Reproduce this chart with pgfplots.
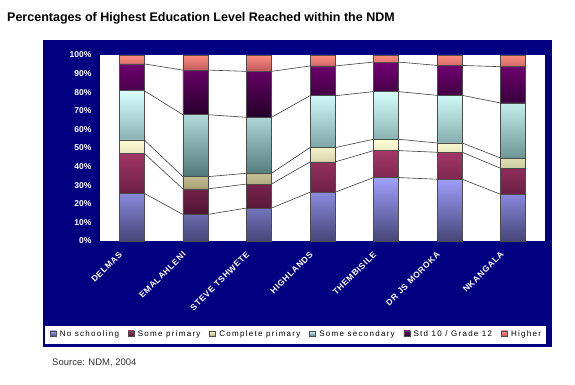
\documentclass[border=0pt]{standalone}
\usepackage{fontspec}
\setmainfont{Liberation Sans}
\usepackage{pgfplots}
\pgfplotsset{compat=1.18}
\definecolor{navy}{RGB}{0,0,128}
\definecolor{nsT}{RGB}{160,160,255}\definecolor{nsB}{RGB}{70,70,120}
\definecolor{spT}{RGB}{165,55,105}\definecolor{spB}{RGB}{80,20,50}
\definecolor{cpT}{RGB}{255,255,215}\definecolor{cpB}{RGB}{170,165,120}
\definecolor{ssT}{RGB}{215,255,255}\definecolor{ssB}{RGB}{80,120,120}
\definecolor{stT}{RGB}{115,0,115}\definecolor{stB}{RGB}{35,0,40}
\definecolor{hiT}{RGB}{255,140,130}\definecolor{hiB}{RGB}{190,90,90}
\begin{document}
\begin{tikzpicture}
\path[use as bounding box] (0pt,0pt) rectangle (575pt,385pt);
\fill[white] (0pt,0pt) rectangle (575pt,385pt);
\fill[navy] (43pt,38pt) rectangle (552pt,345pt);
\fill[white] (45pt,41pt) rectangle (546pt,59pt);
\fill[white] (100pt,144pt) rectangle (545pt,330pt);
\node[anchor=west, font=\bfseries\fontsize{12.5}{14}\selectfont, inner sep=0pt] at (7pt,367pt) {Percentages of Highest Education Level Reached within the NDM};
\node[anchor=west, font=\fontsize{9.5}{11}\selectfont, text=black!80, inner sep=0pt] at (52pt,22pt) {Source: NDM, 2004};
\begin{axis}[at={(100pt,144pt)}, anchor=south west, scale only axis, width=445pt, height=186pt,
  xmin=-0.5, xmax=6.5, ymin=0, ymax=100, hide axis]
\pgfplotsset{every axis plot/.append style={black!75, line width=0.6pt}}
\addplot[mark=none] coordinates {(-0.197,25.6)(0.197,25.6)(0.803,14.3)(1.197,14.3)(1.803,17.7)(2.197,17.7)(2.803,26.2)(3.197,26.2)(3.803,34.1)(4.197,34.1)(4.803,33.2)(5.197,33.2)(5.803,25.1)(6.197,25.1)};
\addplot[mark=none] coordinates {(-0.197,47.1)(0.197,47.1)(0.803,28.0)(1.197,28.0)(1.803,30.6)(2.197,30.6)(2.803,42.5)(3.197,42.5)(3.803,48.6)(4.197,48.6)(4.803,47.7)(5.197,47.7)(5.803,39.1)(6.197,39.1)};
\addplot[mark=none] coordinates {(-0.197,54.3)(0.197,54.3)(0.803,34.6)(1.197,34.6)(1.803,36.4)(2.197,36.4)(2.803,50.2)(3.197,50.2)(3.803,54.7)(4.197,54.7)(4.803,52.7)(5.197,52.7)(5.803,44.6)(6.197,44.6)};
\addplot[mark=none] coordinates {(-0.197,80.8)(0.197,80.8)(0.803,67.9)(1.197,67.9)(1.803,66.5)(2.197,66.5)(2.803,78.1)(3.197,78.1)(3.803,80.3)(4.197,80.3)(4.803,78.3)(5.197,78.3)(5.803,74.2)(6.197,74.2)};
\addplot[mark=none] coordinates {(-0.197,95.2)(0.197,95.2)(0.803,91.9)(1.197,91.9)(1.803,91.2)(2.197,91.2)(2.803,94.1)(3.197,94.1)(3.803,96.2)(4.197,96.2)(4.803,94.4)(5.197,94.4)(5.803,93.7)(6.197,93.7)};
\end{axis}
\begin{axis}[at={(100pt,144pt)}, anchor=south west, scale only axis, width=445pt, height=186pt,
  xmin=-0.5, xmax=6.5, ymin=0, ymax=100, clip=false,
  ybar stacked, bar width=25pt,
  axis line style={draw=none}, major tick length=0pt,
  xtick={0,1,2,3,4,5,6},
  xticklabels={DELMAS,EMALAHLENI,STEVE TSHWETE,HIGHLANDS,THEMBISILE,DR JS MOROKA,NKANGALA},
  xticklabel style={xshift=-11pt, yshift=-12pt, rotate=45, anchor=east, text=white, inner sep=0pt,
    font=\bfseries\fontsize{8.5}{10}\selectfont\addfontfeatures{LetterSpace=8}},
  ytick={0,10,...,100},
  yticklabel={\pgfmathprintnumber{\tick}\%},
  yticklabel style={text=white, font=\bfseries\fontsize{8.5}{10}\selectfont, xshift=-5pt},
  /pgf/number format/assume math mode=true,
  legend style={at={(0.4416,-0.5)}, anchor=center, draw=none, fill=none,
    font=\fontsize{8}{9}\selectfont\addfontfeatures{LetterSpace=16},
    legend columns=-1, /tikz/every even column/.append style={column sep=7pt},
    /tikz/every odd column/.append style={column sep=1.5pt}},
  legend image code/.code={\draw[#1, line width=0.4pt] (0pt,-2.5pt) rectangle (6pt,3pt);},
  every axis plot/.append style={draw=black!70, line width=0.5pt},
]
\addplot[top color=nsT, bottom color=nsB] coordinates {(0,25.6)(1,14.3)(2,17.7)(3,26.2)(4,34.1)(5,33.2)(6,25.1)};
\addplot[top color=spT, bottom color=spB] coordinates {(0,21.5)(1,13.7)(2,12.9)(3,16.3)(4,14.5)(5,14.5)(6,14.0)};
\addplot[top color=cpT, bottom color=cpB] coordinates {(0,7.2)(1,6.6)(2,5.8)(3,7.7)(4,6.1)(5,5.0)(6,5.5)};
\addplot[top color=ssT, bottom color=ssB] coordinates {(0,26.5)(1,33.3)(2,30.1)(3,27.9)(4,25.6)(5,25.6)(6,29.6)};
\addplot[top color=stT, bottom color=stB] coordinates {(0,14.4)(1,24.0)(2,24.7)(3,16.0)(4,15.9)(5,16.1)(6,19.5)};
\addplot[top color=hiT, bottom color=hiB] coordinates {(0,4.8)(1,8.1)(2,8.8)(3,5.9)(4,3.8)(5,5.6)(6,6.3)};
\legend{No schooling,Some primary,Complete primary,Some secondary,Std 10 / Grade 12,Higher}
\end{axis}
\end{tikzpicture}
\end{document}
